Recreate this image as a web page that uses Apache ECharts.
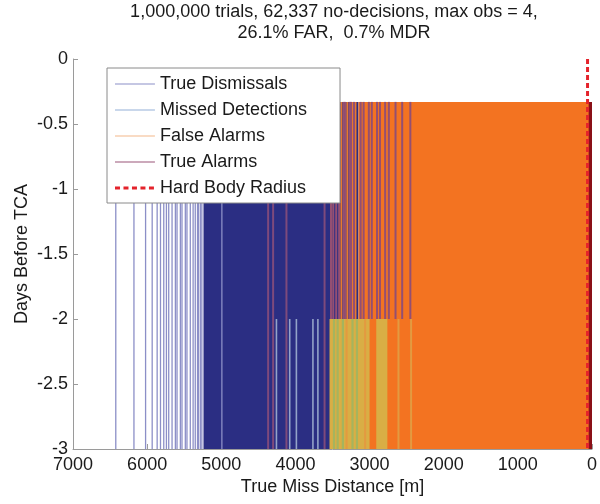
<!DOCTYPE html>
<html>
<head>
<meta charset="utf-8">
<script src="https://cdn.jsdelivr.net/npm/echarts@6/dist/echarts.min.js"></script>
<style>
  html, body { margin: 0; padding: 0; background: #fff; }
  #chart { width: 600px; height: 504px; }
</style>
</head>
<body>
<div id="chart"></div>
<script>
// day values where the decision lines start
var topDay = -0.33;
var lateDay = -2;
var baseDay = -3;

// true dismissals: isolated lines and the dense band [from, to] (metres)
var tdLines = [6423, 6178, 6021, 5932, 5865, 5820, 5776, 5740, 5709, 5664, 5619, 5597,
  5552, 5530, 5485, 5463, 5418, 5380, 5351, 5320, 5306, 5280, 5262, 4992];
var tdBands = [[5240, 3150]];

// missed detections, drawn only from day -2
var mdLate = [4256, 4077, 3987, 3764, 3697];
var mdLateMixed = [3480, 3430, 3360, 3230, 3170];

// false alarms
var faBands = [[3150, 0]];
var faLines = [3380, 3300, 3230, 3190];
var faLateBands = [[3540, 3000], [2910, 2760]];
var faLateLines = [3310, 3060, 2610, 2440];

// true alarms
var taLines = [4368, 4301, 4121, 3607];
var taUpper = [3520, 3490, 3450, 3410, 3350, 3330, 3270, 3250, 3210, 3120, 3080, 3010,
  2970, 2900, 2860, 2790, 2740, 2650, 2560, 2450];
var taBands = [[45, 0]];

var hardBodyRadius = 60;

var xTicks = { min: 0, max: 7000, interval: 1000 };
var yTicks = { min: -3, max: 0, interval: 0.5 };

var font = 'Liberation Sans';

function bandData(list, top, bottom) {
  return list.map(function (b) { return [b[0], b[1], top, bottom]; });
}
function lineData(list, top, bottom) {
  return list.map(function (x) { return [x, top, bottom]; });
}

function bandRender(color) {
  return function (params, api) {
    var a = api.coord([api.value(0), api.value(2)]);
    var b = api.coord([api.value(1), api.value(3)]);
    return {
      type: 'rect',
      shape: {
        x: Math.min(a[0], b[0]), y: Math.min(a[1], b[1]),
        width: Math.abs(b[0] - a[0]), height: Math.abs(b[1] - a[1])
      },
      style: { fill: color }
    };
  };
}
function lineRender(color, width) {
  return function (params, api) {
    var a = api.coord([api.value(0), api.value(1)]);
    var b = api.coord([api.value(0), api.value(2)]);
    return {
      type: 'line',
      shape: { x1: a[0], y1: a[1], x2: b[0], y2: b[1] },
      style: { stroke: color, lineWidth: width }
    };
  };
}

function bands(name, data, color) {
  return {
    name: name, type: 'custom', renderItem: bandRender(color),
    encode: { x: [0, 1], y: [2, 3] }, data: data, silent: true, animation: false
  };
}
function lines(name, data, color, width) {
  return {
    name: name, type: 'custom', renderItem: lineRender(color, width),
    encode: { x: 0, y: [1, 2] }, data: data, silent: true, animation: false
  };
}

var thinIcon = 'path://M0,0h40v0.01h-40z M0,2.4h40v1.2h-40z M0,6h40v0.01h-40z';
var dashIcon = 'path://M0,0h40v0.01h-40z M0,1.5h5v3h-5z M8.5,1.5h5v3h-5z M17,1.5h5v3h-5z M25.5,1.5h5v3h-5z M34,1.5h5v3h-5z M0,6h40v0.01h-40z';

var myChart = echarts.init(document.getElementById('chart'));

var option = {
  backgroundColor: '#fff',
  animation: false,
  title: {
    text: '1,000,000 trials, 62,337 no-decisions, max obs = 4,\n26.1% FAR,  0.7% MDR',
    left: 334,
    top: 2,
    padding: 0,
    textAlign: 'center',
    textStyle: { fontFamily: font, fontSize: 18, fontWeight: 'normal', color: '#1a1a1a', lineHeight: 21 }
  },
  legend: {
    orient: 'vertical',
    left: 107,
    top: 68,
    padding: [7, 33, 6, 8],
    itemWidth: 40,
    itemHeight: 6,
    itemGap: 8,
    backgroundColor: '#fff',
    borderColor: '#8a8a8a',
    borderWidth: 1,
    textStyle: { fontFamily: font, fontSize: 18, color: '#1a1a1a', lineHeight: 18 },
    data: [
      { name: 'True Dismissals', icon: thinIcon, itemStyle: { color: '#8c8fc7', borderWidth: 0 } },
      { name: 'Missed Detections', icon: thinIcon, itemStyle: { color: '#93b0d8', borderWidth: 0 } },
      { name: 'False Alarms', icon: thinIcon, itemStyle: { color: '#f4b889', borderWidth: 0 } },
      { name: 'True Alarms', icon: thinIcon, itemStyle: { color: '#9a5478', borderWidth: 0 } },
      { name: 'Hard Body Radius', icon: dashIcon, itemStyle: { color: '#e4232b', borderWidth: 0 } }
    ]
  },
  grid: { left: 73, right: 5, top: 59, bottom: 55 },
  xAxis: {
    type: 'value',
    inverse: true,
    min: xTicks.min,
    max: xTicks.max,
    interval: xTicks.interval,
    name: 'True Miss Distance [m]',
    nameLocation: 'middle',
    nameGap: 29,
    nameMoveOverlap: false,
    nameTextStyle: { fontFamily: font, fontSize: 18, color: '#1a1a1a' },
    axisLine: { onZero: false, lineStyle: { color: '#9a9a9a' } },
    axisTick: { inside: true, length: 5, lineStyle: { color: '#9a9a9a' } },
    axisLabel: {
      fontFamily: font, fontSize: 18, color: '#1a1a1a', margin: 7,
      formatter: function (v) { return String(v); }
    },
    splitLine: { show: false }
  },
  yAxis: {
    type: 'value',
    min: yTicks.min,
    max: yTicks.max,
    interval: yTicks.interval,
    name: 'Days Before TCA',
    nameLocation: 'middle',
    nameGap: 42,
    nameMoveOverlap: false,
    nameTextStyle: { fontFamily: font, fontSize: 18, color: '#1a1a1a' },
    axisLine: { show: true, onZero: false, lineStyle: { color: '#9a9a9a' } },
    axisTick: { show: true, inside: true, length: 5, lineStyle: { color: '#9a9a9a' } },
    axisLabel: { fontFamily: font, fontSize: 18, color: '#1a1a1a', margin: 5 },
    splitLine: { show: false }
  },
  series: [
    bands('True Dismissals', bandData(tdBands, topDay, baseDay), '#2b2e83'),
    lines('True Dismissals', lineData(tdLines, topDay, baseDay), '#8c8fc7', 1.3),
    bands('False Alarms', bandData(faBands, topDay, baseDay), '#f37321'),
    lines('False Alarms', lineData(faLines, topDay, baseDay), '#e8792e', 2),
    lines('True Alarms', lineData(taLines, topDay, baseDay), '#7e4a7c', 2),
    lines('True Alarms', lineData(taUpper, topDay, lateDay), '#944f72', 2),
    lines('Missed Detections', lineData(mdLate, lateDay, baseDay), '#93a3c9', 1.6),
    bands('False Alarms', bandData(faLateBands, lateDay, baseDay), '#d9ae45'),
    lines('Missed Detections', lineData(mdLateMixed, lateDay, baseDay), '#a6b45d', 2.2),
    lines('False Alarms', lineData(faLateLines, lateDay, baseDay), '#e39a40', 2),
    bands('True Alarms', bandData(taBands, topDay, baseDay), '#8a1018'),
    {
      name: 'Hard Body Radius',
      type: 'line',
      data: [[hardBodyRadius, 0], [hardBodyRadius, baseDay]],
      showSymbol: false,
      symbol: 'none',
      silent: true,
      z: 5,
      lineStyle: { color: '#e4232b', width: 3, type: [5, 3] }
    }
  ]
};

myChart.setOption(option);
window.addEventListener('resize', function () {
  myChart.resize();
});
</script>
</body>
</html>
